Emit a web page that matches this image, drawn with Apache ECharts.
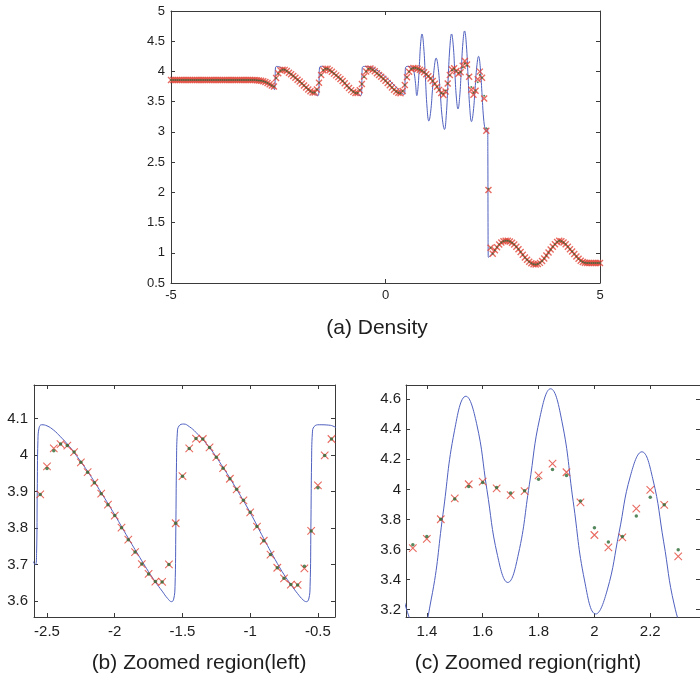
<!DOCTYPE html>
<html>
<head>
<meta charset="utf-8">
<script src="https://cdn.jsdelivr.net/npm/echarts@6/dist/echarts.min.js"></script>
<style>
  html, body { margin: 0; padding: 0; background: #ffffff; }
  #chart { width: 700px; height: 687px; }
</style>
</head>
<body>
<div id="chart"></div>
<script>
// Cell positions of the numerical solution (dx = 0.05 on [-5, 5])
const xCells = [
  -5,-4.95,-4.9,-4.85,-4.8,-4.75,-4.7,-4.65,-4.6,-4.55,
  -4.5,-4.45,-4.4,-4.35,-4.3,-4.25,-4.2,-4.15,-4.1,-4.05,
  -4,-3.95,-3.9,-3.85,-3.8,-3.75,-3.7,-3.65,-3.6,-3.55,
  -3.5,-3.45,-3.4,-3.35,-3.3,-3.25,-3.2,-3.15,-3.1,-3.05,
  -3,-2.95,-2.9,-2.85,-2.8,-2.75,-2.7,-2.65,-2.6,-2.55,
  -2.5,-2.45,-2.4,-2.35,-2.3,-2.25,-2.2,-2.15,-2.1,-2.05,
  -2,-1.95,-1.9,-1.85,-1.8,-1.75,-1.7,-1.65,-1.6,-1.55,
  -1.5,-1.45,-1.4,-1.35,-1.3,-1.25,-1.2,-1.15,-1.1,-1.05,
  -1,-0.95,-0.9,-0.85,-0.8,-0.75,-0.7,-0.65,-0.6,-0.55,
  -0.5,-0.45,-0.4,-0.35,-0.3,-0.25,-0.2,-0.15,-0.1,-0.05,
  0,0.05,0.1,0.15,0.2,0.25,0.3,0.35,0.4,0.45,
  0.5,0.55,0.6,0.65,0.7,0.75,0.8,0.85,0.9,0.95,
  1,1.05,1.1,1.15,1.2,1.25,1.3,1.35,1.4,1.45,
  1.5,1.55,1.6,1.65,1.7,1.75,1.8,1.85,1.9,1.95,
  2,2.05,2.1,2.15,2.2,2.25,2.3,2.35,2.4,2.45,
  2.5,2.55,2.6,2.65,2.7,2.75,2.8,2.85,2.9,2.95,
  3,3.05,3.1,3.15,3.2,3.25,3.3,3.35,3.4,3.45,
  3.5,3.55,3.6,3.65,3.7,3.75,3.8,3.85,3.9,3.95,
  4,4.05,4.1,4.15,4.2,4.25,4.3,4.35,4.4,4.45,
  4.5,4.55,4.6,4.65,4.7,4.75,4.8,4.85,4.9,4.95,
  5
];

// Density from scheme A (red crosses)
const densityA = [
  3.857,3.857,3.857,3.857,3.857,3.857,3.857,3.857,3.857,3.857,
  3.857,3.857,3.857,3.857,3.857,3.857,3.857,3.857,3.857,3.857,
  3.857,3.857,3.857,3.857,3.857,3.857,3.857,3.857,3.857,3.857,
  3.857,3.857,3.857,3.857,3.857,3.857,3.857,3.857,3.857,3.857,
  3.855,3.852,3.847,3.838,3.825,3.808,3.788,3.768,3.752,3.892,
  3.969,4.018,4.030,4.026,4.008,3.980,3.953,3.924,3.894,3.864,
  3.834,3.801,3.768,3.734,3.701,3.674,3.653,3.652,3.700,3.813,
  3.942,4.018,4.045,4.044,4.021,3.994,3.964,3.935,3.906,3.876,
  3.843,3.804,3.765,3.727,3.691,3.662,3.645,3.644,3.689,3.792,
  3.917,3.999,4.044,4.050,4.030,4.003,3.972,3.942,3.912,3.881,
  3.848,3.810,3.771,3.733,3.697,3.667,3.646,3.640,3.676,3.775,
  3.905,3.995,4.042,4.058,4.055,4.045,4.030,4.010,3.985,3.955,
  3.920,3.882,3.840,3.795,3.745,3.695,3.645,3.609,3.670,3.801,
  3.940,4.034,4.051,4.006,3.962,3.988,4.093,4.171,4.114,3.914,
  3.696,3.614,3.681,3.871,3.997,3.897,3.553,3.020,2.040,1.085,
  0.985,1.040,1.090,1.135,1.170,1.192,1.200,1.198,1.186,1.164,
  1.135,1.098,1.058,1.013,0.967,0.923,0.884,0.852,0.827,0.812,
  0.808,0.815,0.833,0.865,0.905,0.955,1.005,1.055,1.100,1.140,
  1.180,1.198,1.190,1.170,1.140,1.100,1.060,1.020,0.980,0.940,
  0.900,0.870,0.848,0.836,0.831,0.830,0.830,0.830,0.830,0.830,
  0.832
];

// Density from scheme B (green dots)
const densityB = [
  3.857,3.857,3.857,3.857,3.857,3.857,3.857,3.857,3.857,3.857,
  3.857,3.857,3.857,3.857,3.857,3.857,3.857,3.857,3.857,3.857,
  3.857,3.857,3.857,3.857,3.857,3.857,3.857,3.857,3.857,3.857,
  3.857,3.857,3.857,3.857,3.857,3.857,3.857,3.857,3.857,3.857,
  3.855,3.852,3.847,3.838,3.825,3.808,3.788,3.768,3.752,3.892,
  3.963,4.012,4.030,4.026,4.008,3.980,3.953,3.924,3.894,3.864,
  3.834,3.801,3.768,3.734,3.701,3.674,3.653,3.652,3.700,3.813,
  3.942,4.018,4.045,4.044,4.021,3.994,3.964,3.935,3.906,3.876,
  3.843,3.804,3.765,3.727,3.691,3.662,3.645,3.644,3.695,3.792,
  3.910,3.999,4.044,4.050,4.030,4.003,3.972,3.942,3.912,3.881,
  3.848,3.810,3.771,3.733,3.697,3.667,3.646,3.640,3.676,3.775,
  3.905,3.995,4.042,4.058,4.055,4.045,4.030,4.010,3.985,3.955,
  3.920,3.882,3.840,3.795,3.745,3.695,3.645,3.631,3.686,3.801,
  3.936,4.019,4.045,4.012,3.975,3.990,4.067,4.132,4.093,3.923,
  3.744,3.649,3.686,3.823,3.947,3.897,3.598,3.060,2.060,1.085,
  0.985,1.040,1.090,1.135,1.170,1.192,1.200,1.198,1.186,1.164,
  1.135,1.098,1.058,1.013,0.967,0.923,0.884,0.852,0.827,0.812,
  0.808,0.815,0.833,0.865,0.905,0.955,1.005,1.055,1.100,1.140,
  1.180,1.198,1.190,1.170,1.140,1.100,1.060,1.020,0.980,0.940,
  0.900,0.870,0.848,0.836,0.831,0.830,0.830,0.830,0.830,0.830,
  0.832
];

// Reference solution (blue curve), [x, density]
const referenceCurve = [
  [-5.0,3.857],[-3.1,3.857],[-3.0,3.856],[-2.9,3.85],[-2.8,3.825],[-2.7,3.78],
  [-2.64,3.735],[-2.6,3.705],[-2.585,3.70],[-2.577,3.73],[-2.572,3.90],[-2.567,4.04],
  [-2.558,4.075],[-2.54,4.083],[-2.5,4.08],[-2.45,4.068],[-2.4,4.05],[-2.35,4.03],
  [-2.3,4.007],[-2.2,3.955],[-2.1,3.897],[-2.0,3.836],[-1.9,3.772],[-1.8,3.71],
  [-1.75,3.68],[-1.7,3.652],[-1.65,3.627],[-1.61,3.607],[-1.58,3.598],[-1.565,3.605],
  [-1.555,3.64],[-1.549,3.80],[-1.544,3.98],[-1.538,4.06],[-1.525,4.08],[-1.49,4.085],
  [-1.45,4.078],[-1.4,4.062],[-1.3,4.02],[-1.2,3.966],[-1.1,3.906],[-1.0,3.842],
  [-0.9,3.771],[-0.8,3.703],[-0.75,3.672],[-0.7,3.645],[-0.65,3.62],[-0.61,3.603],
  [-0.585,3.598],[-0.568,3.605],[-0.558,3.64],[-0.552,3.80],[-0.547,3.98],[-0.541,4.06],
  [-0.528,4.078],[-0.49,4.083],[-0.42,4.082],[-0.38,4.078],[-0.3,4.062],[-0.2,4.022],
  [-0.1,3.968],[0.0,3.908],[0.1,3.845],[0.2,3.775],[0.3,3.705],[0.35,3.67],
  [0.4,3.635],[0.43,3.615],[0.443,3.612],[0.45,3.65],[0.455,3.82],[0.46,4.0],
  [0.466,4.06],[0.48,4.078],[0.52,4.084],[0.58,4.078],[0.64,4.05],[0.67,3.97],
  [0.70,3.80],[0.73,3.60],[0.76,3.75],[0.79,4.11],[0.82,4.47],[0.85,4.62],
  [0.89,4.41],[0.93,3.90],[0.97,3.39],[1.01,3.18],[1.0525,3.33],[1.095,3.70],
  [1.1375,4.07],[1.18,4.22],[1.229,4.05],[1.2775,3.63],[1.326,3.21],[1.375,3.04],
  [1.416,3.27],[1.4575,3.83],[1.499,4.39],[1.54,4.62],[1.578,4.44],[1.615,4.0],
  [1.653,3.56],[1.69,3.38],[1.728,3.57],[1.767,4.03],[1.805,4.48],[1.843,4.67],
  [1.884,4.45],[1.924,3.92],[1.965,3.39],[2.005,3.17],[2.046,3.33],[2.088,3.71],
  [2.129,4.09],[2.17,4.25],[2.209,4.07],[2.248,3.65],[2.286,3.23],[2.325,3.03],
  [2.35,3.0],[2.372,3.04],[2.381,3.06],[2.386,2.6],[2.39,1.5],[2.394,0.95],
  [2.40,0.925],[2.45,0.96],[2.5,1.0],[2.6,1.09],[2.7,1.165],[2.8,1.2],
  [2.9,1.186],[3.0,1.135],[3.1,1.058],[3.2,0.967],[3.3,0.884],[3.4,0.827],
  [3.47,0.81],[3.55,0.815],[3.65,0.865],[3.75,0.955],[3.85,1.055],[3.95,1.14],
  [4.05,1.2],[4.15,1.17],[4.25,1.10],[4.35,1.02],[4.45,0.94],[4.55,0.87],
  [4.62,0.84],[4.7,0.83],[5.0,0.83]
];

// Tick positions of the three panels
const ticksFullX = [-5, 0, 5];
const ticksFullY = [0.5, 1, 1.5, 2, 2.5, 3, 3.5, 4, 4.5, 5];
const ticksLeftX = [-2.5, -2, -1.5, -1, -0.5];
const ticksLeftY = [3.6, 3.7, 3.8, 3.9, 4, 4.1];
const ticksRightX = [1.4, 1.6, 1.8, 2, 2.2];
const ticksRightY = [3.2, 3.4, 3.6, 3.8, 4, 4.2, 4.4, 4.6];

const panelTitles = ['(a) Density', '(b) Zoomed region(left)', '(c) Zoomed region(right)'];

const FONT = '"Liberation Sans", Arial, Helvetica, sans-serif';
const AXIS_COLOR = '#3a3a3a';
const TEXT_COLOR = '#1e1e1e';
const BLUE = '#4f60bf';
const RED = '#e2463a';
const GREEN = '#2c6a36';

const pointsA = xCells.map((x, i) => [x, densityA[i]]);
const pointsB = xCells.map((x, i) => [x, densityB[i]]);

const panels = [
  { grid: { left: 171, top: 11, width: 429, height: 272 },
    xRange: [-5, 5], yRange: [0.5, 5], xTicks: ticksFullX, yTicks: ticksFullY,
    fontSize: 13, xMargin: 6, yMargin: 6, crossSize: 6, crossWidth: 1.4, dotSize: 2 },
  { grid: { left: 34, top: 385, width: 301, height: 232 },
    xRange: [-2.596, -0.374], yRange: [3.556, 4.192], xTicks: ticksLeftX, yTicks: ticksLeftY,
    fontSize: 15, xMargin: 7, yMargin: 6, crossSize: 7.5, crossWidth: 1.1, dotSize: 3.5 },
  { grid: { left: 406, top: 385, width: 301, height: 232 },
    xRange: [1.3255, 2.378], yRange: [3.15, 4.695], xTicks: ticksRightX, yTicks: ticksRightY,
    fontSize: 15, xMargin: 7, yMargin: 5, crossSize: 7.5, crossWidth: 1.1, dotSize: 3.5 }
];

const grids = [], xAxes = [], yAxes = [], series = [];

function axis(gridIndex, range, ticks, position, showLabel, p, margin) {
  return {
    gridIndex, type: 'value', position, min: range[0], max: range[1],
    axisLine: { show: true, onZero: false, lineStyle: { color: AXIS_COLOR, width: 1 } },
    axisTick: { show: true, inside: true, length: 4, customValues: ticks,
                lineStyle: { color: AXIS_COLOR, width: 1 } },
    axisLabel: { show: showLabel, customValues: ticks, fontSize: p.fontSize,
                 fontFamily: FONT, color: TEXT_COLOR, margin },
    splitLine: { show: false }
  };
}

panels.forEach((p, g) => {
  grids.push(Object.assign({ containLabel: false }, p.grid));
  xAxes.push(axis(g, p.xRange, p.xTicks, 'bottom', true, p, p.xMargin));
  xAxes.push(axis(g, p.xRange, p.xTicks, 'top', false, p, 0));
  yAxes.push(axis(g, p.yRange, p.yTicks, 'left', true, p, p.yMargin));
  yAxes.push(axis(g, p.yRange, p.yTicks, 'right', false, p, 0));

  series.push({
    type: 'line', xAxisIndex: 2 * g, yAxisIndex: 2 * g, data: referenceCurve,
    showSymbol: false, smooth: 0.45, clip: true, silent: true,
    lineStyle: { color: BLUE, width: 1 }, z: 2
  });
  series.push({
    type: 'scatter', xAxisIndex: 2 * g, yAxisIndex: 2 * g, data: pointsA,
    symbol: 'path://M0,0L10,10M10,0L0,10', symbolSize: p.crossSize, clip: true, silent: true,
    itemStyle: { color: 'rgba(0,0,0,0)', borderColor: RED, borderWidth: p.crossWidth }, z: 3
  });
  series.push({
    type: 'scatter', xAxisIndex: 2 * g, yAxisIndex: 2 * g, data: pointsB,
    symbol: 'circle', symbolSize: p.dotSize, clip: true, silent: true,
    itemStyle: { color: GREEN }, z: 4
  });
});

const titleSpots = [[377, 328], [199, 663], [528, 663]];
const graphic = panelTitles.map((t, i) => ({
  type: 'text', x: titleSpots[i][0], y: titleSpots[i][1], silent: true,
  style: { text: t, fill: TEXT_COLOR, font: '21px ' + FONT, align: 'center', verticalAlign: 'middle' }
}));

const chart = echarts.init(document.getElementById('chart'), null, { renderer: 'canvas' });
chart.setOption({
  animation: false,
  backgroundColor: '#ffffff',
  grid: grids,
  xAxis: xAxes,
  yAxis: yAxes,
  series,
  graphic
});
</script>
</body>
</html>
